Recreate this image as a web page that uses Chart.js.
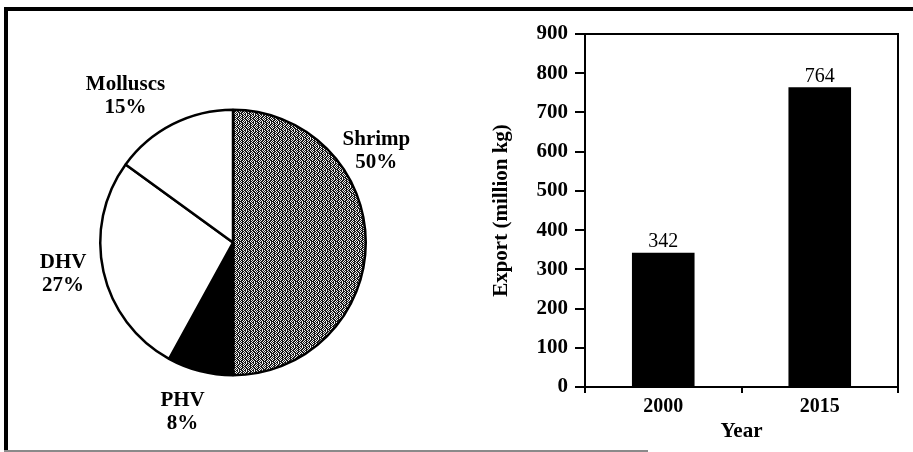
<!DOCTYPE html>
<html>
<head>
<meta charset="utf-8">
<script src="https://cdn.jsdelivr.net/npm/chart.js@4.4.0/dist/chart.umd.min.js"></script>
<style>
  body { margin: 0; background: #fff; }
  #page { position: relative; width: 913px; height: 452px; overflow: hidden; }
  .frame { position: absolute; background: #000; }
  #pieBox { position: absolute; left: 8px; top: 11px; width: 452px; height: 438px; }
  #barBox { position: absolute; left: 462px; top: 12px; width: 451px; height: 440px; }
</style>
</head>
<body>
<div id="page">
  <div class="frame" style="left:4px; top:7px; width:909px; height:4px;"></div>
  <div class="frame" style="left:4px; top:7px; width:4px; height:444px;"></div>
  <div class="frame" style="left:4px; top:450px; width:644px; height:2px; background:#8a8a8a;"></div>
  <div id="pieBox"><canvas id="pieChart"></canvas></div>
  <div id="barBox"><canvas id="barChart"></canvas></div>
</div>
<script>
// Pie data (clockwise from 12 o'clock)
const pieLabels = ['Shrimp', 'PHV', 'DHV', 'Molluscs'];
const pieShares = [50, 8, 27, 15];

// Bar data
const years = ['2000', '2015'];
const exportValues = [342, 764];
const yTicks = [0, 100, 200, 300, 400, 500, 600, 700, 800, 900];

const serif = "'Liberation Serif', 'Times New Roman', serif";

// stippled grey fill for the shrimp slice
function stipple() {
    const rows = [
        '10110101',
        '01101011',
        '10110110',
        '01101101',
        '10110110',
        '01101011',
        '11010101',
        '01101101'
    ];
    const c = document.createElement('canvas');
    c.width = 8; c.height = 8;
    const g = c.getContext('2d');
    g.fillStyle = '#f2f2f2';
    g.fillRect(0, 0, 8, 8);
    g.fillStyle = '#1a1a1a';
    rows.forEach((r, y) => {
        for (let x = 0; x < 8; x++) if (r[x] === '1') g.fillRect(x, y, 1, 1);
    });
    return g.createPattern(c, 'repeat');
}

// label spots relative to pie centre, in radii
const labelSpots = [[1.08, -0.69], [-0.38, 1.28], [-1.28, 0.24], [-0.81, -1.10]];

const pieLabelPlugin = {
    id: 'pieLabels',
    afterDatasetsDraw(chart) {
        const ctx = chart.ctx;
        const arcs = chart.getDatasetMeta(0).data;
        if (!arcs.length) return;
        const cx = arcs[0].x, cy = arcs[0].y, r = arcs[0].outerRadius;
        ctx.save();
        ctx.fillStyle = '#000';
        ctx.font = 'bold 21px ' + serif;
        ctx.textAlign = 'center';
        ctx.textBaseline = 'middle';
        pieLabels.forEach((lab, i) => {
            const x = cx + labelSpots[i][0] * r;
            const y = cy + labelSpots[i][1] * r;
            ctx.fillText(lab, x, y - 11.5);
            ctx.fillText(pieShares[i] + '%', x, y + 11.5);
        });
        ctx.restore();
    }
};

new Chart(document.getElementById('pieChart'), {
    type: 'pie',
    data: {
        labels: pieLabels,
        datasets: [{
            data: pieShares,
            backgroundColor: [stipple(), '#000', '#fff', '#fff'],
            borderColor: '#000',
            borderWidth: 2.5
        }]
    },
    options: {
        responsive: true,
        maintainAspectRatio: false,
        animation: false,
        layout: { padding: { left: 91, right: 93, top: 97, bottom: 72 } },
        plugins: { legend: { display: false }, tooltip: { enabled: false } }
    },
    plugins: [pieLabelPlugin]
});

const boxPlugin = {
    id: 'plotBox',
    afterDraw(chart) {
        const a = chart.chartArea;
        const ctx = chart.ctx;
        ctx.save();
        ctx.strokeStyle = '#000';
        ctx.lineWidth = 2;
        ctx.strokeRect(a.left, a.top, a.right - a.left, a.bottom - a.top);
        ctx.restore();
    }
};

const valuePlugin = {
    id: 'barValues',
    afterDatasetsDraw(chart) {
        const ctx = chart.ctx;
        ctx.save();
        ctx.fillStyle = '#000';
        ctx.font = '20px ' + serif;
        ctx.textAlign = 'center';
        ctx.textBaseline = 'bottom';
        chart.getDatasetMeta(0).data.forEach((bar, i) => {
            ctx.fillText(exportValues[i], bar.x, bar.y - 1);
        });
        ctx.restore();
    }
};

new Chart(document.getElementById('barChart'), {
    type: 'bar',
    data: {
        labels: years,
        datasets: [{
            data: exportValues,
            backgroundColor: '#000',
            barPercentage: 0.4,
            categoryPercentage: 1
        }]
    },
    options: {
        responsive: true,
        maintainAspectRatio: false,
        animation: false,
        layout: { padding: { left: 0, right: 15, top: 22, bottom: 0 } },
        plugins: { legend: { display: false }, tooltip: { enabled: false } },
        scales: {
            x: {
                grid: { drawOnChartArea: false, tickLength: 6, color: '#000', lineWidth: 2 },
                border: { display: true, color: '#000', width: 2 },
                ticks: { color: '#000', padding: 2, font: { family: serif, size: 20, weight: 'bold' } },
                title: { display: true, text: 'Year', color: '#000', padding: { top: 0, bottom: 8 },
                         font: { family: serif, size: 21, weight: 'bold' } },
                afterFit: s => { s.height = 65; }
            },
            y: {
                min: 0,
                max: 900,
                afterBuildTicks: s => { s.ticks = yTicks.map(v => ({ value: v })); },
                grid: { drawOnChartArea: false, tickLength: 10, color: '#000', lineWidth: 2 },
                border: { display: true, color: '#000', width: 2 },
                ticks: { color: '#000', padding: 7, font: { family: serif, size: 21, weight: 'bold' } },
                title: { display: true, text: 'Export (million kg)', color: '#000', padding: { top: 27, bottom: 4 },
                         font: { family: serif, size: 21, weight: 'bold' } },
                afterFit: s => { s.width = 123; }
            }
        }
    },
    plugins: [valuePlugin, boxPlugin]
});
</script>
</body>
</html>
